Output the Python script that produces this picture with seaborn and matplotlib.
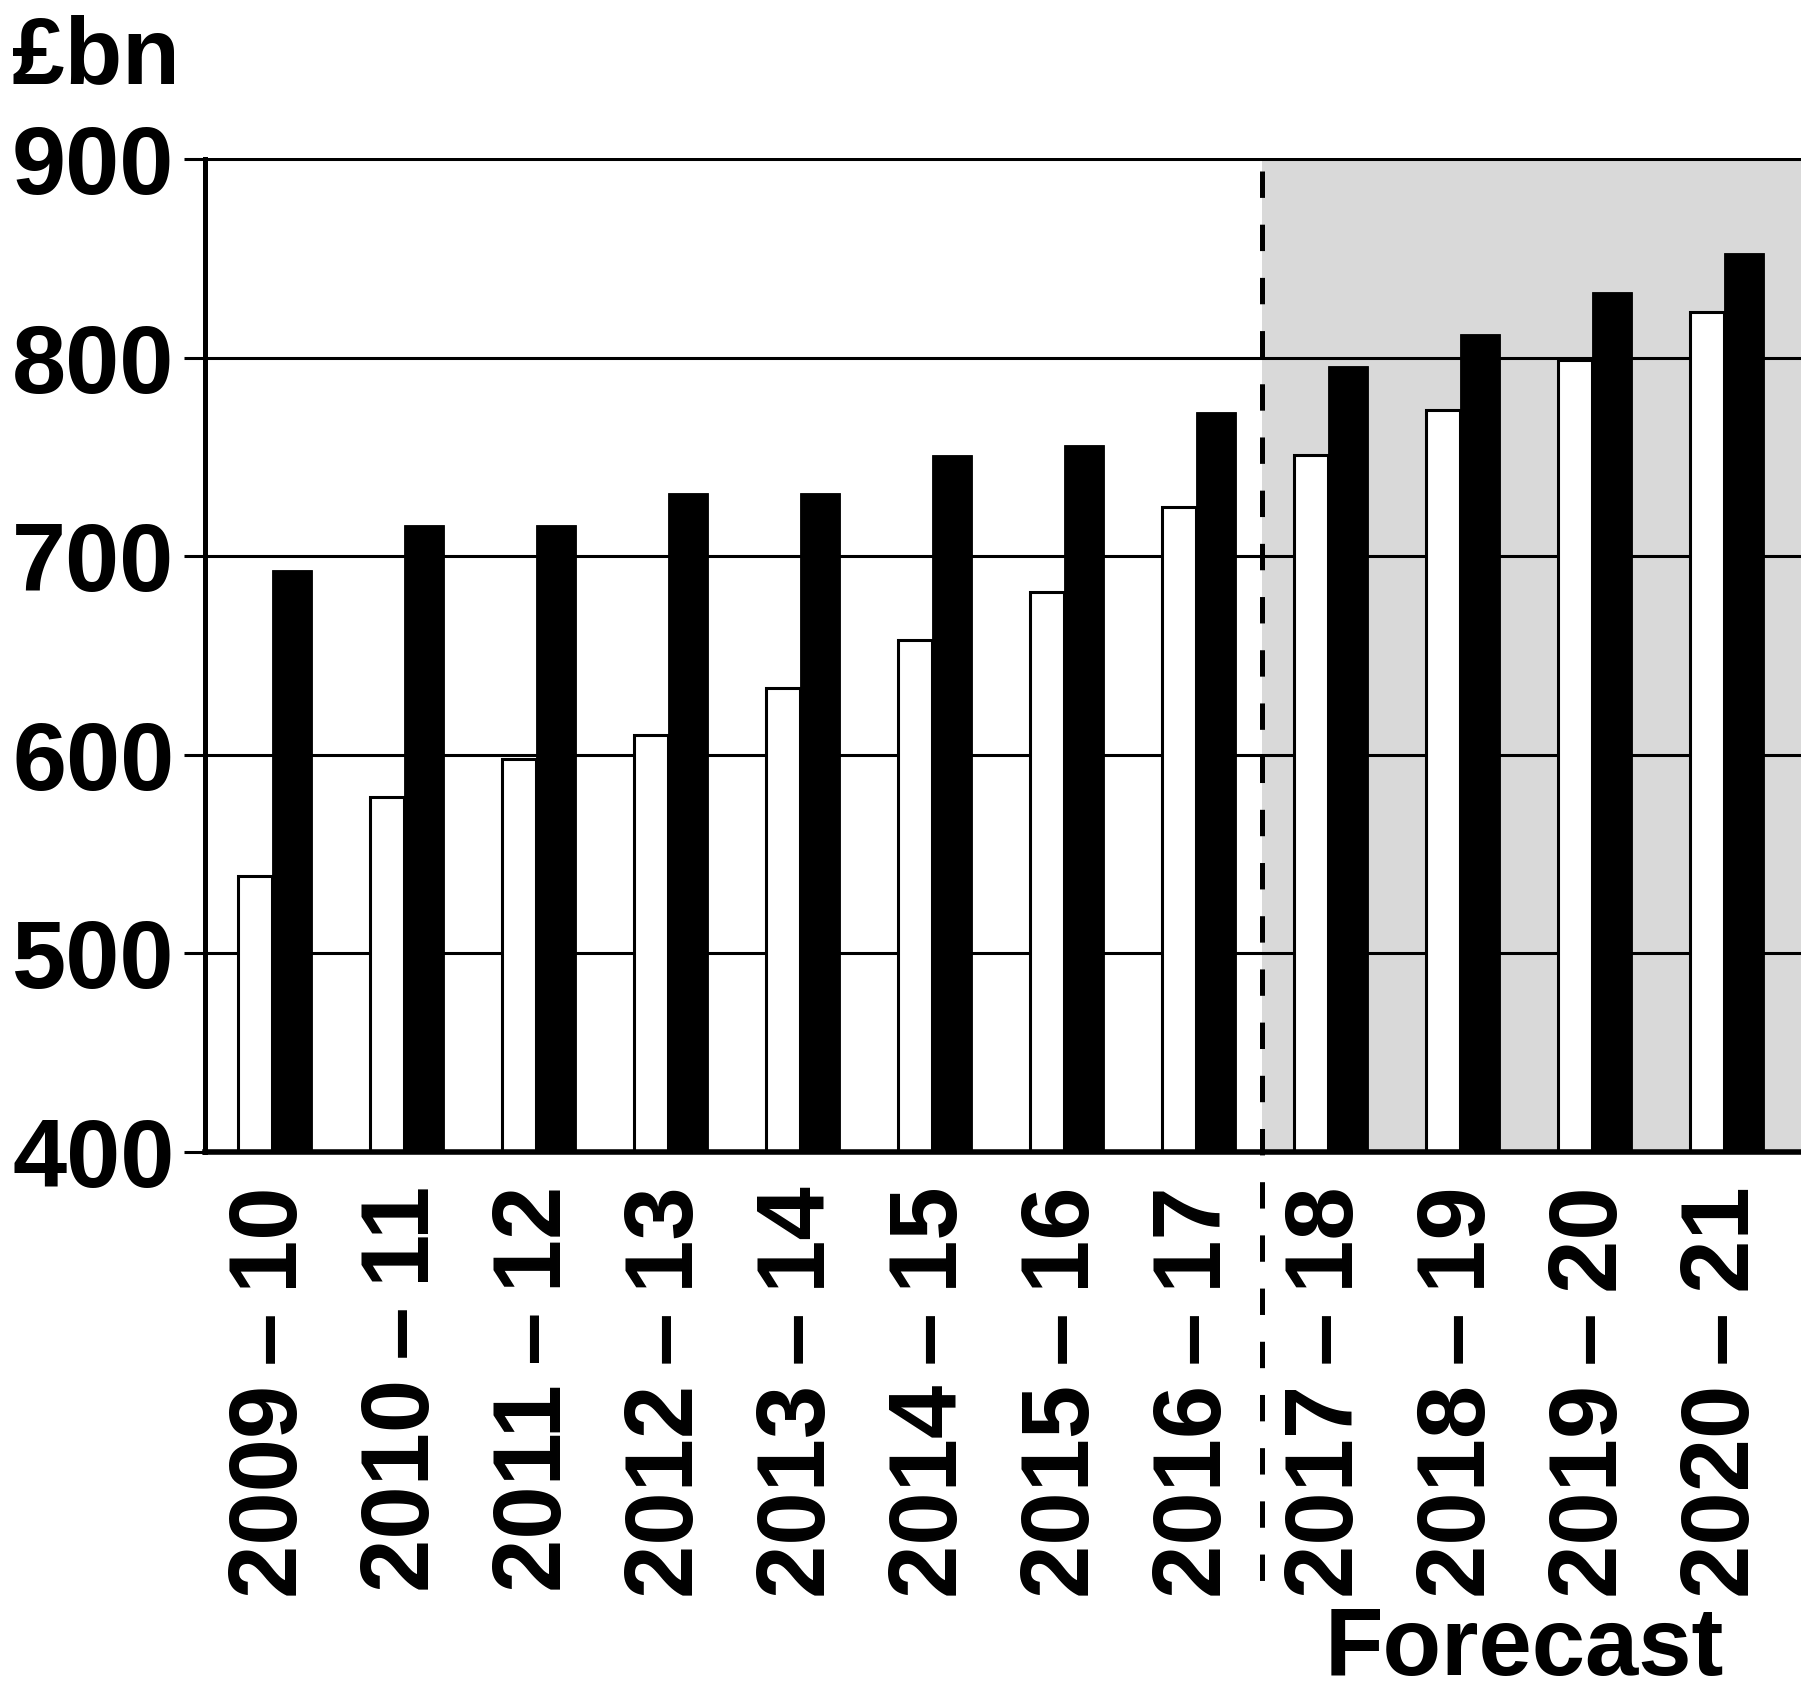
import matplotlib
matplotlib.use("Agg")
import matplotlib.pyplot as plt
import matplotlib.transforms as mtransforms
import pandas as pd
import seaborn as sns

# Financial years and the two series (£bn)
years = ["2009\u2009–\u200910", "2010\u2009–\u200911", "2011\u2009–\u200912", "2012\u2009–\u200913",
         "2013\u2009–\u200914", "2014\u2009–\u200915", "2015\u2009–\u200916", "2016\u2009–\u200917",
         "2017\u2009–\u200918", "2018\u2009–\u200919", "2019\u2009–\u200920", "2020\u2009–\u200921"]
receipts = [539, 579, 598, 610, 634, 658, 682, 725, 751, 774, 799, 823]
spending = [693, 716, 716, 732, 732, 751, 756, 773, 796, 812, 833, 853]
y_ticks = [400, 500, 600, 700, 800, 900]
forecast_start = 7.5  # boundary between 2016-17 and 2017-18

sns.set_style("white")
plt.rcParams["font.family"] = ["Liberation Sans", "DejaVu Sans"]
plt.rcParams["font.weight"] = "bold"
plt.rcParams["lines.scale_dashes"] = False
plt.rcParams.update({
    "text.color": "black",
    "axes.labelcolor": "black",
    "axes.edgecolor": "black",
    "xtick.color": "black",
    "ytick.color": "black",
})

df = pd.DataFrame({
    "year": years * 2,
    "value": receipts + spending,
    "series": ["Receipts"] * len(years) + ["Spending"] * len(years),
})

W, H = 1801, 1694
fig = plt.figure(figsize=(W / 100, H / 100), dpi=100)
ax_left, ax_right, ax_top, ax_bottom = 205, 1801, 157.5, 1152
ax = fig.add_axes([ax_left / W, 1 - ax_bottom / H,
                   (ax_right - ax_left) / W, (ax_bottom - ax_top) / H])

sns.barplot(data=df, x="year", y="value", hue="series",
            palette={"Receipts": "white", "Spending": "black"},
            width=0.56, dodge=True, saturation=1, legend=False,
            edgecolor="black", linewidth=2.2, ax=ax)

# Narrow the open bars slightly and widen the solid ones, keeping them adjacent
for p in ax.patches:
    fc = p.get_facecolor()
    x0, w = p.get_x(), p.get_width()
    if fc[0] > 0.5:
        right = x0 + w
        p.set_width(0.26)
        p.set_x(right - 0.26)
    else:
        p.set_width(0.30)
        p.set_linewidth(0.6)

xmax = 11.583
ax.set_xlim(-0.508, xmax)
ax.set_ylim(400, 901)

# Shaded forecast period
ax.axvspan(forecast_start, xmax, ymin=0, ymax=500 / 501, color="#d9d9d9",
           lw=0, zorder=0.1)

ax.set_axisbelow(True)
ax.yaxis.grid(True, color="black", linewidth=2.2)
ax.xaxis.grid(False)

for side in ("top", "right"):
    ax.spines[side].set_visible(False)
ax.spines["left"].set_linewidth(3.6)
ax.spines["left"].set_bounds(400, 900)
ax.spines["bottom"].set_linewidth(4)
ax.spines["left"].set_color("black")
ax.spines["bottom"].set_color("black")

ax.set_yticks(y_ticks)
ax.set_yticklabels([str(v) for v in y_ticks], fontsize=70, fontweight="bold",
                   color="black")
ax.set_xticks(range(len(years)))
ax.set_xticklabels(years, rotation=90, fontsize=69, fontweight="bold",
                   color="black")
ax.tick_params(axis="y", length=15, width=2.2, pad=7, color="black",
               direction="out", left=True)
ax.tick_params(axis="x", length=0, pad=24.5)
ax.set_xlabel("")
ax.set_ylabel("")

# Dashed divider running from the top of the plot down through the labels
trans = mtransforms.blended_transform_factory(ax.transData, ax.transAxes)
span = ax_bottom - ax_top
ax.plot([forecast_start, forecast_start],
        [(ax_bottom - 171) / span, (ax_bottom - 1585) / span],
        transform=trans, clip_on=False, color="black", lw=3.6,
        dashes=(19, 19.3), solid_capstyle="butt", zorder=3)

fig.text(12 / W, 1 - 83.5 / H, "£bn", fontsize=68, fontweight="bold",
         color="black", ha="left", va="baseline")
fig.text(1524.5 / W, 1 - 1675 / H, "Forecast", fontsize=69, fontweight="bold",
         color="black", ha="center", va="baseline")

fig.savefig("out.png", dpi=100, facecolor="white")
